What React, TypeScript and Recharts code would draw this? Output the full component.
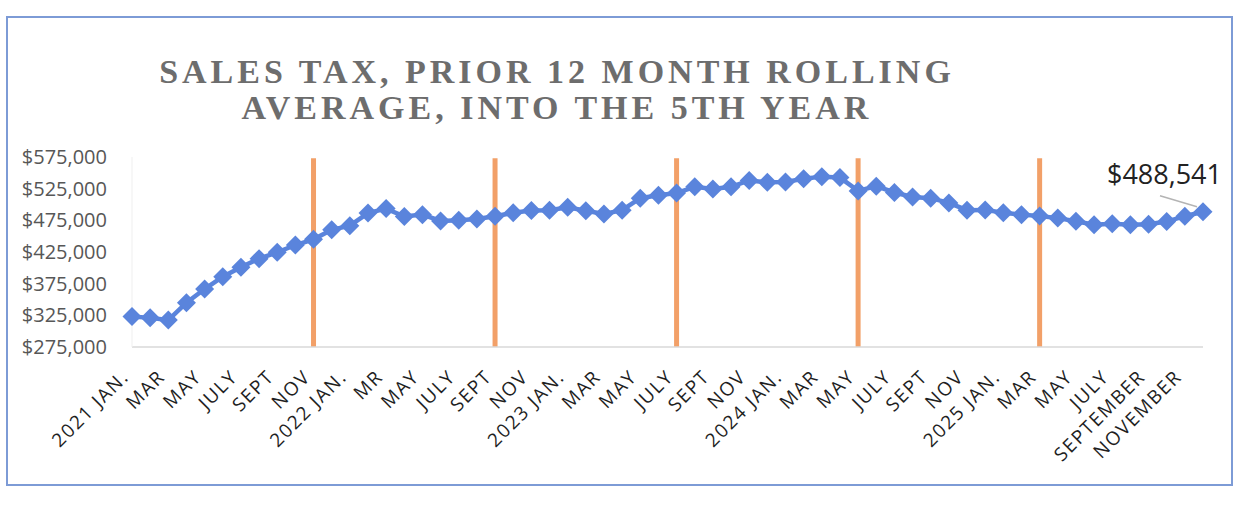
import { LineChart, Line, XAxis, YAxis, ReferenceLine, LabelList } from "recharts";

// monthly categories, Jan 2021 .. Dec 2025
const years = ["2021", "2022", "2023", "2024", "2025"];
const monthNames = ["JAN", "FEB", "MAR", "APR", "MAY", "JUN", "JUL", "AUG", "SEP", "OCT", "NOV", "DEC"];
const months = years.flatMap((y) => monthNames.map((m) => `${y} ${m}`));

// prior-12-month rolling average of sales tax
const values = [
  323000, 321000, 317500, 345000, 366500, 386000, 401000, 414500, 424500, 436000, 445000, 460000,
  466500, 486500, 493500, 481000, 484000, 474000, 475000, 477000, 481500, 487000, 490500, 491000,
  495500, 490000, 485000, 491000, 510000, 514500, 518000, 528000, 524500, 528000, 538000, 535000,
  535500, 540500, 544000, 542500, 521500, 529000, 519000, 512000, 510000, 502500, 491000, 491500,
  487000, 484000, 482000, 478500, 473500, 468000, 469500, 468000, 469000, 473000, 481500, 488541,
];

// every other month gets a label, as on the original
const tickLabels = [
  "2021 JAN.", "MAR", "MAY", "JULY", "SEPT", "NOV",
  "2022 JAN.", "MR", "MAY", "JULY", "SEPT", "NOV",
  "2023 JAN.", "MAR", "MAY", "JULY", "SEPT", "NOV",
  "2024 JAN.", "MAR", "MAY", "JULY", "SEPT", "NOV",
  "2025 JAN.", "MAR", "MAY", "JULY", "SEPTEMBER", "NOVEMBER",
];

const yTicks = [275000, 325000, 375000, 425000, 475000, 525000, 575000];

// orange divider bars, every ten months
const markerMonths = ["2021 NOV", "2022 SEP", "2023 JUL", "2024 MAY", "2025 MAR"];
const markerTop = 573000;

const data = months.map((month, i) => ({ month, value: values[i] }));

const BLUE = "#5a84dc";
const ORANGE = "#f2a068";
const SANS = "'Open Sans', 'Noto Sans', sans-serif";

const money = (v: number) => "$" + v.toLocaleString("en-US");

function MonthTick({ x, y, payload }: any) {
  const i = months.indexOf(payload.value);
  if (i < 0 || i % 2 !== 0) return <g />;
  return (
    <g transform={`translate(${x - 2},${y + 31})`}>
      <text
        textAnchor="end"
        transform="rotate(-45)"
        fontSize={19}
        letterSpacing={1.6}
        fill="#1f1f1f"
        fontFamily={SANS}
      >
        {tickLabels[i / 2]}
      </text>
    </g>
  );
}

function Diamond({ cx, cy, index }: any) {
  if (cx == null || cy == null) return <g key={index} />;
  return (
    <polygon
      key={index}
      points={`${cx},${cy - 9.5} ${cx + 9.5},${cy} ${cx},${cy + 9.5} ${cx - 9.5},${cy}`}
      fill={BLUE}
    />
  );
}

function EndLabel(props: any) {
  const { x, y, index, value } = props;
  if (index !== values.length - 1) return null;
  return (
    <g>
      <line x1={x - 43} y1={y - 16} x2={x - 6} y2={y - 5} stroke="#b4b4b4" strokeWidth={1.5} />
      <text x={x + 19} y={y - 28} textAnchor="end" fontSize={27} fill="#222" fontFamily={SANS}>
        {money(Number(value))}
      </text>
    </g>
  );
}

export default function App() {
  return (
    <div style={{ position: "absolute", left: 0, top: 0, width: 1240, height: 510, background: "#fff" }}>
      <div
        style={{
          position: "absolute",
          left: 6,
          top: 16,
          width: 1227,
          height: 470,
          border: "2px solid #7d9bd6",
          boxSizing: "border-box",
        }}
      />
      <div
        style={{
          position: "absolute",
          left: 0,
          top: 54,
          width: 1114,
          textAlign: "center",
          fontFamily: "'Liberation Serif', 'Times New Roman', serif",
          fontWeight: 700,
          fontSize: 34,
          lineHeight: "36px",
          letterSpacing: 4,
          color: "#6d6d6d",
        }}
      >
        SALES TAX, PRIOR 12 MONTH ROLLING
        <br />
        AVERAGE, INTO THE 5TH YEAR
      </div>
      <LineChart
        width={1240}
        height={510}
        data={data}
        margin={{ top: 157, right: 37, bottom: 0, left: 0 }}
        style={{ position: "absolute", left: 0, top: 0 }}
      >
        <XAxis
          dataKey="month"
          interval={1}
          height={163}
          tickSize={0}
          tickMargin={0}
          tickLine={false}
          axisLine={{ stroke: "#d9d9d9", strokeWidth: 1.5 }}
          tick={<MonthTick />}
        />
        <YAxis
          domain={[275000, 575000]}
          ticks={yTicks}
          width={132}
          tickSize={0}
          tickMargin={25}
          tickLine={false}
          axisLine={{ stroke: "#efefef" }}
          tickFormatter={money}
          tick={{ fontSize: 20, fill: "#575757", fontFamily: SANS }}
        />
        {markerMonths.map((m) => (
          <ReferenceLine
            key={m}
            segment={[
              { x: m, y: 275000 },
              { x: m, y: markerTop },
            ]}
            stroke={ORANGE}
            strokeWidth={5}
          />
        ))}
        <Line
          type="linear"
          dataKey="value"
          stroke={BLUE}
          strokeWidth={4.5}
          dot={<Diamond />}
          activeDot={false}
          isAnimationActive={false}
        >
          <LabelList dataKey="value" content={<EndLabel />} />
        </Line>
      </LineChart>
    </div>
  );
}
